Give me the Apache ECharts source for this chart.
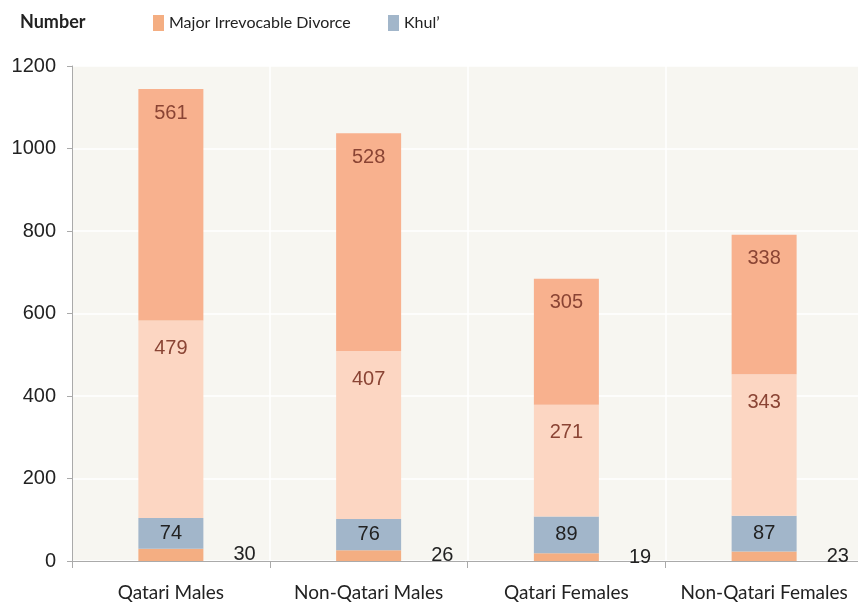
<!DOCTYPE html>
<html>
<head>
<meta charset="utf-8">
<title>Divorce by type</title>
<script src="https://cdn.jsdelivr.net/npm/echarts@6/dist/echarts.min.js"></script>
<style>
  html, body { margin: 0; padding: 0; background: #fff; }
  #main { width: 858px; height: 604px; }
</style>
</head>
<body>
<div id="main"></div>
<script>
var categories = ['Qatari Males', 'Non-Qatari Males', 'Qatari Females', 'Non-Qatari Females'];
// bottom to top
var majorIrrevocable = [30, 26, 19, 23];
var khul = [74, 76, 89, 87];
var middleValues = [479, 407, 271, 343];
var topValues = [561, 528, 305, 338];

var chart = echarts.init(document.getElementById('main'));

var labelFont = { fontFamily: 'Liberation Sans, Arial', fontSize: 20 };

chart.setOption({
    backgroundColor: '#ffffff',
    title: {
        text: 'Number',
        left: 15,
        top: 8,
        textStyle: { fontFamily: 'Lato', fontWeight: 'bold', fontSize: 18, color: '#222' }
    },
    legend: [
        {
            data: ['Major Irrevocable Divorce'],
            left: 148, top: 10,
            itemWidth: 11, itemHeight: 16, itemGap: 4,
            icon: 'rect',
            textStyle: { fontFamily: 'Lato', fontSize: 16, color: '#222' }
        },
        {
            data: ['Khul\u2019'],
            left: 383, top: 10,
            itemWidth: 11, itemHeight: 16,
            icon: 'rect',
            textStyle: { fontFamily: 'Lato', fontSize: 16, color: '#222' }
        }
    ],
    grid: {
        left: 72, top: 66, width: 791, height: 495,
        outerBoundsMode: 'none',
        backgroundColor: '#f7f6f1', show: true, borderWidth: 0
    },
    xAxis: {
        type: 'category',
        data: categories,
        axisLine: { lineStyle: { color: '#aaaaaa' } },
        axisTick: { show: true, interval: 0, length: 7, lineStyle: { color: '#aaaaaa' } },
        splitLine: { show: true, interval: 0, lineStyle: { color: '#ffffff', width: 1.5 } },
        axisLabel: { interval: 0, fontFamily: 'Lato', fontSize: 19, color: '#222', margin: 22 }
    },
    yAxis: {
        type: 'value',
        min: 0, max: 1200, interval: 200,
        axisLine: { show: true, lineStyle: { color: '#aaaaaa' } },
        axisTick: { show: true, length: 5, lineStyle: { color: '#aaaaaa' } },
        splitLine: { lineStyle: { color: '#ffffff', width: 1.5 } },
        axisLabel: {
            fontFamily: 'Liberation Sans, Arial', fontSize: 20, color: '#222', margin: 16,
            formatter: function (v) { return String(v); }
        }
    },
    series: [
        {
            name: 'Major Irrevocable Divorce',
            type: 'bar', stack: 'total', barWidth: 65,
            data: majorIrrevocable,
            itemStyle: { color: '#f4ae82' },
            label: Object.assign({ show: true, position: 'right', distance: 30, color: '#222' }, labelFont)
        },
        {
            name: 'Khul\u2019',
            type: 'bar', stack: 'total',
            data: khul,
            itemStyle: { color: '#a2b6ca' },
            label: Object.assign({ show: true, position: 'inside', color: '#222' }, labelFont)
        },
        {
            name: 'middle',
            type: 'bar', stack: 'total',
            data: middleValues,
            itemStyle: { color: '#fcd6c2' },
            label: Object.assign({ show: true, position: 'insideTop', distance: 18, color: '#8a4434' }, labelFont)
        },
        {
            name: 'top',
            type: 'bar', stack: 'total',
            data: topValues,
            itemStyle: { color: '#f8b18e' },
            label: Object.assign({ show: true, position: 'insideTop', distance: 14, color: '#8a4434' }, labelFont)
        }
    ]
});
</script>
</body>
</html>
